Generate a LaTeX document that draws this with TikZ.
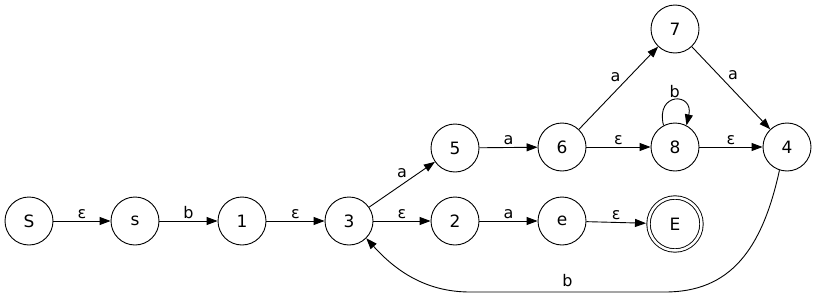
\documentclass[tikz,border=0pt]{standalone}
\usepackage{fontspec}
\setmainfont{DejaVu Sans}
\usetikzlibrary{arrows.meta}

\begin{document}
\begin{tikzpicture}[x=1pt, y=-1pt,
    state/.style={circle, draw, line width=0.9pt, minimum size=48pt, inner sep=0pt, font=\fontsize{17}{17}\selectfont},
    accept/.style={state, double, double distance=2.5pt, minimum size=53pt, outer sep=2.5pt},
    arr/.style={-{Triangle[length=11pt, width=8pt]}, line width=0.9pt},
    lbl/.style={font=\fontsize{16}{16}\selectfont, inner sep=2pt}
]
    \useasboundingbox (0,0) rectangle (816,297);

    % bottom row
    \node[state] (S) at (29,221) {S};
    \node[state] (s) at (135,221) {s};
    \node[state] (q1) at (242,221) {1};
    \node[state] (q3) at (349,221) {3};
    \node[state] (q2) at (455,221) {2};
    \node[state] (e) at (562,221) {e};
    \node[accept] (E) at (675,224) {E};

    % upper row
    \node[state] (q5) at (455,148) {5};
    \node[state] (q6) at (562,147) {6};
    \node[state] (q8) at (675,147) {8};
    \node[state] (q4) at (787,147) {4};
    \node[state] (q7) at (675,29) {7};

    \draw[arr] (S) -- node[lbl, above] {ε} (s);
    \draw[arr] (s) -- node[lbl, above] {b} (q1);
    \draw[arr] (q1) -- node[lbl, above] {ε} (q3);
    \draw[arr] (q3) -- node[lbl, above] {ε} (q2);
    \draw[arr] (q3) -- node[lbl, above=4pt] {a} (q5);
    \draw[arr] (q5) -- node[lbl, above] {a} (q6);
    \draw[arr] (q2) -- node[lbl, above] {a} (e);
    \draw[arr] (e) -- node[lbl, above] {ε} (E);
    \draw[arr] (q6) -- node[lbl, above=4pt, xshift=-3pt] {a} (q7);
    \draw[arr] (q6) -- node[lbl, above] {ε} (q8);
    \draw[arr] (q8) -- node[lbl, above] {ε} (q4);
    \draw[arr] (q7) -- node[lbl, above=6pt, xshift=2pt] {a} (q4);
    \draw[arr] (q8.118) .. controls (655,92) and (694,92) .. node[lbl, above] {b} (q8.62);
    \draw[arr] (q4.-108) .. controls (762,250) and (730,292) .. (665,292)
        -- node[lbl, above=3pt] {b} (470,292)
        .. controls (425,292) and (395,270) .. (q3.-45);
\end{tikzpicture}
\end{document}
